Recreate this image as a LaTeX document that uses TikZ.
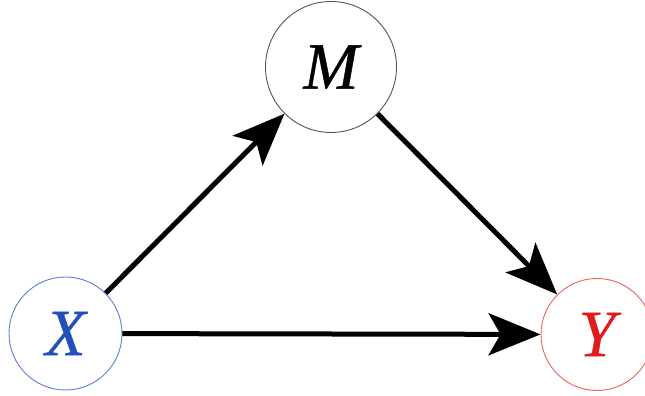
\documentclass[tikz,border=0pt]{standalone}
\usepackage{fontspec}
\setmainfont{Liberation Serif}
\newfontfamily\varfont{Liberation Serif}[ItalicFeatures={FakeBold=0.6}]
\usetikzlibrary{arrows.meta}
\definecolor{xblue}{HTML}{2250B8}
\definecolor{xring}{HTML}{5A7FD6}
\definecolor{yred}{HTML}{E01B1B}
\definecolor{yring}{HTML}{EE6060}
\definecolor{mring}{HTML}{555555}
\begin{document}
\begin{tikzpicture}[x=1pt,y=1pt,
  var/.style={circle,inner sep=0pt,line width=0.9pt,font=\fontsize{66}{66}\varfont\itshape},
  conn/.style={line width=5pt,-{Stealth[length=52pt,width=42pt,inset=12pt]}}]
\useasboundingbox (0,0) rectangle (645,396);
\node[var,draw=xring,text=xblue,minimum size=113pt] (x) at (65.5,62.5) {X};
\node[var,draw=yring,text=yred,minimum size=112pt] (y) at (597,61.5) {Y};
\node[var,draw=mring,text=black,minimum size=131pt] (m) at (331,329) {M};
\draw[conn] (x) -- (m);
\draw[conn] (m) -- (y);
\draw[conn] (x) -- (y);
\end{tikzpicture}
\end{document}
